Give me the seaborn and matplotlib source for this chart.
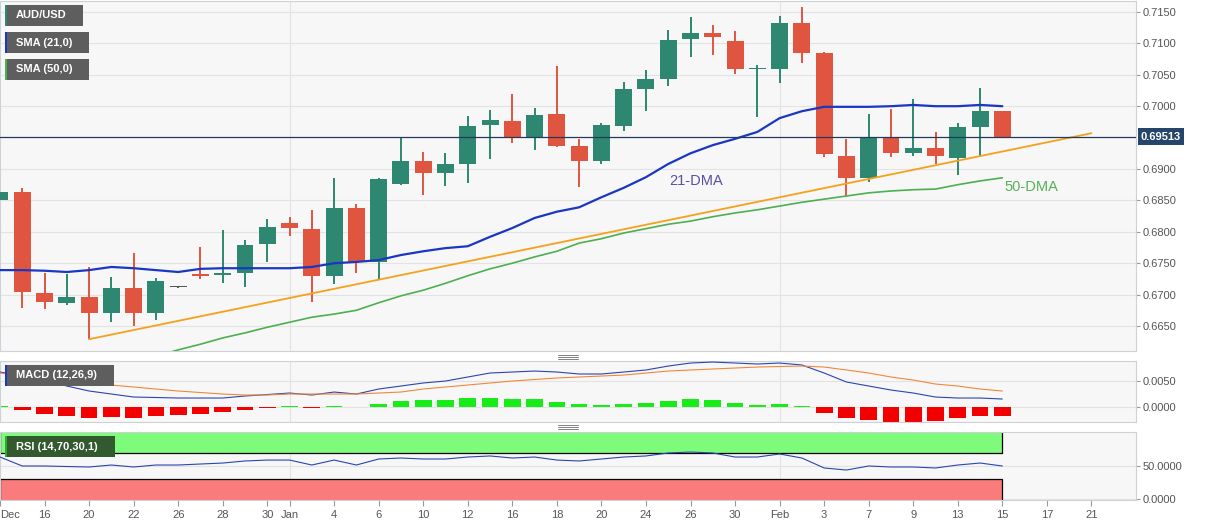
import numpy as np
import pandas as pd
import matplotlib
matplotlib.use("Agg")
import matplotlib.pyplot as plt
import matplotlib.transforms as mtrans
from matplotlib.patches import Rectangle
from matplotlib.lines import Line2D
import seaborn as sns

# AUD/USD daily candles, index 0 = Dec 15
opens = [0.6850, 0.6863, 0.6703, 0.6687, 0.6696, 0.6671, 0.6711, 0.6671, 0.6712, 0.6733,
         0.6731, 0.6734, 0.6781, 0.6814, 0.6805, 0.6730, 0.6838, 0.6752, 0.6876, 0.6913,
         0.6894, 0.6908, 0.6970, 0.6976, 0.6951, 0.6988, 0.6937, 0.6913, 0.6968, 0.7027,
         0.7043, 0.7107, 0.7117, 0.7104, 0.7059, 0.7059, 0.7132, 0.7085, 0.6921, 0.6886,
         0.6951, 0.6925, 0.6933, 0.6918, 0.6967, 0.6992]
highs = [0.6881, 0.6870, 0.6734, 0.6733, 0.6744, 0.6728, 0.6766, 0.6726, 0.6713, 0.6776,
         0.6803, 0.6787, 0.6820, 0.6824, 0.6835, 0.6886, 0.6844, 0.6886, 0.6949, 0.6927,
         0.6926, 0.6984, 0.6994, 0.7019, 0.6997, 0.7064, 0.6948, 0.6973, 0.7039, 0.7058,
         0.7121, 0.7142, 0.7129, 0.7120, 0.7066, 0.7144, 0.7158, 0.7086, 0.6948, 0.6988,
         0.6995, 0.7011, 0.6959, 0.6973, 0.7029, 0.6993]
lows = [0.6811, 0.6679, 0.6677, 0.6683, 0.6629, 0.6656, 0.6650, 0.6660, 0.6711, 0.6725,
        0.6719, 0.6712, 0.6752, 0.6793, 0.6688, 0.6717, 0.6734, 0.6725, 0.6874, 0.6859,
        0.6873, 0.6878, 0.6916, 0.6941, 0.6930, 0.6935, 0.6871, 0.6908, 0.6961, 0.6992,
        0.7032, 0.7078, 0.7082, 0.7051, 0.6983, 0.7037, 0.7069, 0.6919, 0.6857, 0.6879,
        0.6919, 0.6921, 0.6908, 0.6890, 0.6921, 0.6950]
closes = [0.6863, 0.6704, 0.6688, 0.6696, 0.6671, 0.6711, 0.6671, 0.6722, 0.6712, 0.6730,
          0.6734, 0.6779, 0.6808, 0.6806, 0.6730, 0.6838, 0.6752, 0.6884, 0.6913, 0.6894,
          0.6908, 0.6968, 0.6978, 0.6951, 0.6986, 0.6937, 0.6913, 0.6970, 0.7027, 0.7043,
          0.7105, 0.7117, 0.7110, 0.7059, 0.7061, 0.7132, 0.7085, 0.6924, 0.6886, 0.6951,
          0.6925, 0.6933, 0.6921, 0.6967, 0.6992, 0.69513]

sma21 = [0.6739, 0.6739, 0.6738, 0.6736, 0.6739, 0.6744, 0.6742, 0.6739, 0.6736, 0.6741,
         0.6742, 0.6742, 0.6742, 0.6742, 0.6744, 0.6750, 0.6752, 0.6755, 0.6763, 0.6769,
         0.6774, 0.6777, 0.6792, 0.6806, 0.6822, 0.6832, 0.6839, 0.6855, 0.6870, 0.6887,
         0.6908, 0.6925, 0.6938, 0.6948, 0.6959, 0.6981, 0.6992, 0.6999, 0.6999, 0.6999,
         0.7000, 0.7002, 0.7000, 0.7000, 0.7002, 0.7000]
# 50-day SMA only enters the visible range from index 7
sma50_start = 7
sma50 = [0.6602, 0.6612, 0.6621, 0.6631, 0.6639, 0.6648, 0.6656, 0.6664, 0.6669, 0.6675,
         0.6687, 0.6698, 0.6707, 0.6718, 0.6730, 0.6741, 0.6750, 0.6760, 0.6769, 0.6782,
         0.6789, 0.6798, 0.6805, 0.6812, 0.6817, 0.6824, 0.6830, 0.6835, 0.6841, 0.6847,
         0.6852, 0.6857, 0.6862, 0.6865, 0.6867, 0.6868, 0.6875, 0.6881, 0.6886]

macd_line = [0.00673, 0.00596, 0.00519, 0.00404, 0.00308, 0.00250, 0.00192, 0.00183, 0.00173, 0.00173,
             0.00173, 0.00212, 0.00240, 0.00269, 0.00231, 0.00288, 0.00250, 0.00346, 0.00404, 0.00462,
             0.00500, 0.00577, 0.00654, 0.00673, 0.00692, 0.00673, 0.00635, 0.00635, 0.00673, 0.00712,
             0.00788, 0.00846, 0.00865, 0.00846, 0.00827, 0.00846, 0.00808, 0.00654, 0.00481, 0.00404,
             0.00327, 0.00269, 0.00192, 0.00173, 0.00173, 0.00154]
macd_signal = [0.00654, 0.00596, 0.00538, 0.00500, 0.00462, 0.00423, 0.00385, 0.00346, 0.00308, 0.00279,
               0.00250, 0.00231, 0.00231, 0.00250, 0.00250, 0.00250, 0.00250, 0.00269, 0.00288, 0.00346,
               0.00385, 0.00423, 0.00462, 0.00500, 0.00529, 0.00558, 0.00577, 0.00596, 0.00615, 0.00654,
               0.00692, 0.00712, 0.00731, 0.00750, 0.00769, 0.00779, 0.00788, 0.00769, 0.00712, 0.00654,
               0.00577, 0.00519, 0.00442, 0.00404, 0.00346, 0.00308]
macd_hist = [0.00015, -0.0005, -0.0013, -0.0017, -0.0021, -0.0020, -0.0021, -0.0018, -0.0016, -0.0013,
             -0.0010, -0.0005, -0.0001, 0.00015, -0.0001, 0.0002, 0.00005, 0.0005, 0.0012, 0.0013,
             0.0013, 0.0017, 0.0018, 0.0015, 0.0015, 0.0010, 0.0005, 0.0004, 0.0006, 0.0008,
             0.0012, 0.0015, 0.0014, 0.0008, 0.0004, 0.0005, 0.0002, -0.0011, -0.0022, -0.0024,
             -0.0028, -0.0028, -0.0027, -0.0022, -0.0018, -0.0017]

rsi = [63.6, 50.0, 50.0, 49.2, 48.5, 51.5, 48.5, 51.5, 51.5, 53.0,
       54.5, 57.6, 59.0, 59.0, 51.5, 59.0, 51.5, 60.6, 62.1, 60.6,
       60.6, 63.6, 65.2, 62.1, 63.6, 59.0, 57.6, 60.6, 63.6, 65.2,
       69.7, 71.2, 69.7, 63.6, 63.6, 68.2, 62.1, 47.0, 43.9, 50.0,
       48.5, 48.5, 47.0, 51.5, 54.5, 50.0]
rsi_levels = (30, 70)

# support line drawn on the chart (from the Dec 20 low)
trend_x = [4, 49]
trend_y = [0.6629, 0.6957]
last_price = 0.69513

price_ticks = [0.6650, 0.6700, 0.6750, 0.6800, 0.6850, 0.6900, 0.7000, 0.7050, 0.7100, 0.7150]
tick_pos = [0, 2, 4, 6, 8, 10, 12, 13, 15, 17, 19, 21, 23, 25, 27, 29, 31, 33, 35, 37, 39, 41, 43, 45, 47, 49]
tick_labels = ['Dec', '16', '20', '22', '26', '28', '30', 'Jan', '4', '6', '10', '12', '16', '18',
               '20', '24', '26', '30', 'Feb', '3', '7', '9', '13', '15', '17', '21']
month_starts = [13, 35]

sns.set_style("white")
plt.rcParams['font.family'] = ['Liberation Sans', 'DejaVu Sans']

df = pd.DataFrame({'open': opens, 'high': highs, 'low': lows, 'close': closes,
                   'sma21': sma21, 'macd': macd_line, 'signal': macd_signal,
                   'hist': macd_hist, 'rsi': rsi})
df['idx'] = np.arange(len(df))
df50 = pd.DataFrame({'idx': np.arange(sma50_start, sma50_start + len(sma50)), 'sma50': sma50})

GREEN = '#2e8770'
RED = '#e0553f'
BG = '#f7f7f7'
GRID = '#e3e3e3'
TXT = '#555555'

W, H = 1207, 526
fig = plt.figure(figsize=(W / 100, H / 100), dpi=100)
fig.patch.set_facecolor('white')


def px_box(x0, y0, x1, y1):
    return [x0 / W, 1 - y1 / H, (x1 - x0) / W, (y1 - y0) / H]


ax = fig.add_axes(px_box(0, 1, 1136, 351))
ax_m = fig.add_axes(px_box(0, 361, 1136, 422), sharex=ax)
ax_r = fig.add_axes(px_box(0, 432, 1136, 500), sharex=ax)

for a in (ax, ax_m, ax_r):
    a.set_facecolor(BG)
    for s in a.spines.values():
        s.set_color('#cdd1d8')
        s.set_linewidth(0.8)
    a.yaxis.tick_right()
    a.tick_params(axis='y', labelsize=8, labelcolor=TXT, color='#999999', length=3, pad=2)
    a.grid(axis='y', color=GRID, linewidth=0.8)
    a.set_axisbelow(True)
    for m in month_starts:
        a.axvline(m, color=GRID, linewidth=0.8, zorder=0.5)

# --- price panel ---
up = df['close'] > df['open']
down = df['close'] < df['open']
cols = np.where(up, GREEN, np.where(down, RED, '#555555'))
ax.vlines(df['idx'], df['low'], df['high'], colors=cols, linewidth=1.4, zorder=2)
body_low = np.minimum(df['open'], df['close'])
body_h = np.maximum((df['close'] - df['open']).abs(), 0.00014)
ax.bar(df['idx'], body_h, bottom=body_low, width=0.76, color=cols, linewidth=0, zorder=3)

sns.lineplot(data=df, x='idx', y='sma21', ax=ax, color='#1a37c2', linewidth=1.6, zorder=5)
sns.lineplot(data=df50, x='idx', y='sma50', ax=ax, color='#4caf50', linewidth=1.2, zorder=5)
ax.plot(trend_x, trend_y, color='#f5a11c', linewidth=1.3, zorder=4)
ax.axhline(last_price, color='#22395a', linewidth=0.9, zorder=6)

ax.text(30.05, 0.6881, '21-DMA', color='#5b4ea3', fontsize=10.5, va='center', ha='left', zorder=7)
ax.text(45.1, 0.6871, '50-DMA', color='#55b155', fontsize=10.5, va='center', ha='left', zorder=7)

ax.set_ylim(0.66102, 0.71675)
ax.set_yticks(price_ticks)
ax.yaxis.set_major_formatter(matplotlib.ticker.FormatStrFormatter('%.4f'))
ax.tick_params(axis='x', bottom=False, labelbottom=False)
ax.set_xlabel('')
ax.set_ylabel('')

tr = mtrans.blended_transform_factory(ax.transAxes, ax.transData)
ax.text(1.0044, last_price, f'{last_price:.5f}', transform=tr, ha='left', va='center',
        color='white', fontsize=8, fontweight='bold', clip_on=False, zorder=8,
        bbox=dict(boxstyle='square,pad=0.3', fc='#26456a', ec='none'))

# --- MACD panel ---
hcols = np.where(df['hist'] >= 0, '#18ec18', '#f20000')
ax_m.bar(df['idx'], df['hist'], width=0.75, color=hcols, linewidth=0, zorder=2)
sns.lineplot(data=df, x='idx', y='macd', ax=ax_m, color='#2b45b0', linewidth=0.8, zorder=3)
sns.lineplot(data=df, x='idx', y='signal', ax=ax_m, color='#f0883a', linewidth=0.8, zorder=3)
ax_m.set_ylim(-0.00288, 0.00885)
ax_m.set_yticks([0.0, 0.005])
ax_m.yaxis.set_major_formatter(matplotlib.ticker.FormatStrFormatter('%.4f'))
ax_m.tick_params(axis='x', bottom=False, labelbottom=False)
ax_m.set_xlabel('')
ax_m.set_ylabel('')

# --- RSI panel ---
last_i = df['idx'].iloc[-1]
r_lo, r_hi = -1.5, 101.5
ax_r.add_patch(Rectangle((0, rsi_levels[1]), last_i, r_hi + 5 - rsi_levels[1],
                         fc='#7ffb7b', ec='black', linewidth=0.9, zorder=1))
ax_r.add_patch(Rectangle((0, r_lo - 5), last_i, rsi_levels[0] - r_lo + 5,
                         fc='#fa7b7b', ec='black', linewidth=0.9, zorder=1))
sns.lineplot(data=df, x='idx', y='rsi', ax=ax_r, color='#2b45b0', linewidth=0.8, zorder=3)
ax_r.set_ylim(r_lo, r_hi)
ax_r.set_yticks([0, 50])
ax_r.yaxis.set_major_formatter(matplotlib.ticker.FormatStrFormatter('%.4f'))
ax_r.set_xlabel('')
ax_r.set_ylabel('')

ax_r.set_xlim(0, 51.0)
ax_r.set_xticks(tick_pos)
ax_r.set_xticklabels(tick_labels)
ax_r.tick_params(axis='x', labelsize=8, labelcolor=TXT, color='#999999', length=4, pad=3,
                 bottom=True, direction='out')
ax_r.get_xticklabels()[0].set_horizontalalignment('left')

# --- indicator name boxes ---
boxes = [((5, 5, 83, 26), 'AUD/USD', '#5e5e5e', GREEN),
         ((5, 32, 89, 53), 'SMA (21,0)', '#5e5e5e', '#1a37c2'),
         ((5, 59, 89, 80), 'SMA (50,0)', '#5e5e5e', '#4caf50'),
         ((5, 365, 114, 386), 'MACD (12,26,9)', '#5e5e5e', '#1a37c2'),
         ((5, 436, 115, 457), 'RSI (14,70,30,1)', '#33592f', '#2eaa2e')]
for (x0, y0, x1, y1), label, fc, strip in boxes:
    fig.add_artist(Rectangle((x0 / W, 1 - y1 / H), (x1 - x0) / W, (y1 - y0) / H,
                             transform=fig.transFigure, fc=fc, ec='none', zorder=10))
    fig.add_artist(Rectangle((x0 / W, 1 - y1 / H), 2.2 / W, (y1 - y0) / H,
                             transform=fig.transFigure, fc=strip, ec='none', zorder=11))
    fig.text(16 / W, 1 - (y0 + y1) / 2 / H, label, color='white', fontsize=8,
             fontweight='bold', va='center', ha='left', zorder=12)

# pane resize handles
for yc in (356.5, 426.5):
    for dy in (-2, 0, 2):
        fig.add_artist(Line2D([558 / W, 578 / W], [1 - (yc + dy) / H] * 2,
                              transform=fig.transFigure, color='#808080', linewidth=0.7))

fig.savefig('out.png', dpi=100, facecolor='white')
